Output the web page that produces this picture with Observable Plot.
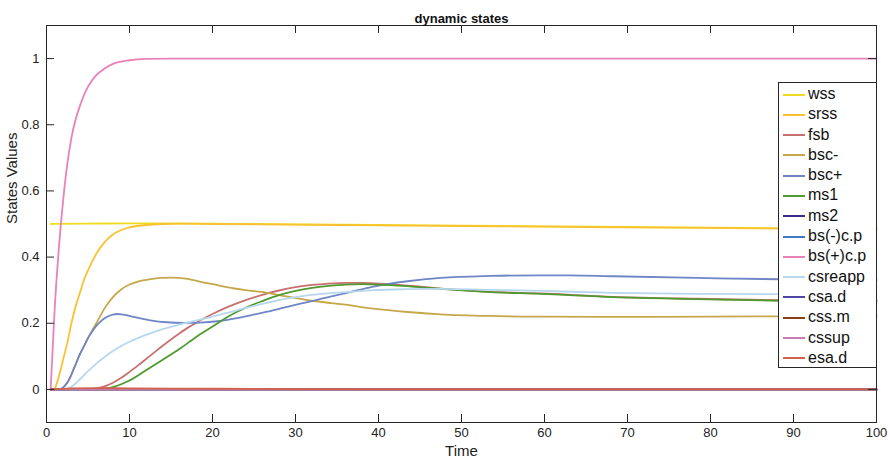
<!DOCTYPE html>
<html><head><meta charset="utf-8">
<script src="https://cdn.jsdelivr.net/npm/d3@7"></script>
<script src="https://cdn.jsdelivr.net/npm/@observablehq/plot@0.6"></script>
<style>
body{margin:0;background:#fff;}
#wrap{position:relative;width:890px;height:463px;font-family:"Liberation Sans",Arial,Helvetica,sans-serif;}
#legend{position:absolute;left:778px;top:82px;width:99px;height:286px;border:1px solid #262626;background:#fff;box-sizing:border-box;padding-top:1px;}
.row{position:relative;height:20.3px;line-height:20.3px;font-size:16px;color:#111;}
.row .sw{position:absolute;left:4px;top:9.5px;width:22px;height:2px;}
.row .lb{position:absolute;left:29px;top:0;white-space:nowrap;}
</style>
</head><body>
<div id="wrap"><div id="chart"></div><div id="legend"></div></div>
<script>
// ---- data ----
const names = ["wss","srss","fsb","bsc-","bsc+","ms1","ms2","bs(-)c.p","bs(+)c.p","csreapp","csa.d","css.m","cssup","esa.d"];
const colors = ["#F0DC1E","#F8C232","#C8706F","#C6A84A","#6E86C6","#4E9A2F","#3B2D8C","#3D7CC0","#E882B8","#B7D7EF","#4E46A5","#8A3F12","#C77CB6","#D0614D"];

const wssT = [0.5,5,10,20,30,40,50,60,70,80,90,100];
const wssV = [0.5,0.501,0.502,0.501,0.499,0.497,0.495,0.493,0.491,0.489,0.487,0.485];

const srssT = [1.0,1.5,2,2.5,3,3.5,4,4.5,5,6,7,8,9,10,12,14,16,20,30,40,50,60,70,80,90,100];
const srssV = [0,0.04,0.09,0.14,0.2,0.25,0.29,0.33,0.36,0.41,0.445,0.468,0.482,0.49,0.497,0.5,0.501,0.5,0.498,0.496,0.494,0.492,0.49,0.488,0.486,0.484];

const fsbT = [5,6,7,8,9,10,11,12,13,14,15,16,17,18,19,20,22,24,26,28,30,32,34,36,38,40,44,48,53.5,59.5,68.3,78.4,88.2,100];
const fsbV = [0,0.003,0.009,0.02,0.035,0.053,0.072,0.092,0.112,0.132,0.151,0.169,0.186,0.201,0.215,0.228,0.251,0.27,0.286,0.299,0.309,0.316,0.32,0.322,0.322,0.32,0.313,0.304,0.295,0.29,0.28,0.274,0.27,0.268];

const bscMinusT = [1.7,2.5,3,3.5,4,4.5,5,5.5,6,7,8,9,10,11,12,13,14,15,16,17,18.6,20,22.6,24,26.6,28,30.6,33,36,39.4,43.5,47.5,53.5,60,70,80,90,100];
const bscMinusV = [0,0.02,0.045,0.075,0.105,0.13,0.155,0.178,0.2,0.245,0.279,0.302,0.317,0.326,0.331,0.335,0.337,0.338,0.337,0.334,0.325,0.318,0.305,0.3,0.292,0.285,0.274,0.265,0.256,0.244,0.234,0.227,0.222,0.22,0.219,0.22,0.221,0.222];

const bscPlusT = [1.7,2.5,3,3.5,4,4.5,5,5.5,6,6.5,7,7.5,8,8.5,9,9.5,10.5,12.5,14.5,16.5,18.5,20.6,22.6,24.6,26.6,28.6,30.6,32.6,35.4,37,39.4,43.5,47.5,53.5,59.5,63,68.3,78.4,88.2,100];
const bscPlusV = [0,0.02,0.045,0.075,0.105,0.13,0.155,0.175,0.192,0.205,0.215,0.222,0.226,0.228,0.227,0.225,0.219,0.209,0.203,0.201,0.202,0.206,0.214,0.224,0.235,0.247,0.259,0.271,0.287,0.297,0.311,0.327,0.337,0.343,0.345,0.345,0.342,0.337,0.333,0.331];

const ms1T = [6,8,10,12,14,16,18,20,22,24,26,28,30,32,34,36,38,40,44,48,53.5,59.5,68.3,78.4,88.2,100];
const ms1V = [0,0.007,0.027,0.058,0.09,0.122,0.158,0.19,0.222,0.247,0.267,0.285,0.298,0.307,0.313,0.317,0.318,0.317,0.311,0.303,0.294,0.289,0.279,0.273,0.268,0.266];

const ms2T = [0.5,100];
const ms2V = [0,0];
const bsMinusCpT = [0.5,100];
const bsMinusCpV = [0,0];

const bsPlusCpT = [0.5,1,1.5,2,2.5,3,3.5,4,5,6,7,8,10,12,15,20,100];
const bsPlusCpV = [0,0.25,0.43,0.57,0.68,0.76,0.815,0.855,0.915,0.95,0.97,0.984,0.995,0.999,1,1,1];

const csreappT = [2.3,3,4,5,6,7,8,9,10,11,12,13,14,16,18,20,22,24.6,28.6,32.6,36.6,39.4,43.5,47.5,53.5,59.5,68.3,78.4,88.2,100];
const csreappV = [0,0.008,0.03,0.055,0.078,0.098,0.116,0.131,0.144,0.155,0.165,0.174,0.182,0.196,0.208,0.22,0.233,0.25,0.273,0.287,0.295,0.3,0.303,0.304,0.301,0.298,0.292,0.289,0.288,0.287];

const csaDT = [0.5,100];
const csaDV = [0,0];
const cssMT = [0.5,100];
const cssMV = [0,0];
const cssupT = [0.5,100];
const cssupV = [0,0];

const esaDT = [0.5,3,6,10,20,30,40,100];
const esaDV = [0,0.003,0.004,0.003,0.002,0.001,0,0];

const xTicks = [0,10,20,30,40,50,60,70,80,90,100];
const yTicks = [0,0.2,0.4,0.6,0.8,1];
const yTickLabels = ["0","0.2","0.4","0.6","0.8","1"];
const titleText = "dynamic states";
const xLabel = "Time";
const yLabel = "States Values";

// ---- build table ----
const seriesT = [wssT,srssT,fsbT,bscMinusT,bscPlusT,ms1T,ms2T,bsMinusCpT,bsPlusCpT,csreappT,csaDT,cssMT,cssupT,esaDT];
const seriesV = [wssV,srssV,fsbV,bscMinusV,bscPlusV,ms1V,ms2V,bsMinusCpV,bsPlusCpV,csreappV,csaDV,cssMV,cssupV,esaDV];
const rows = [];
names.forEach((n,i)=>{ seriesT[i].forEach((t,j)=>rows.push({name:n,t,v:seriesV[i][j]})); });

const X0=0,X1=100,Y0=-0.1,Y1=1.1;
const tickLenY = 0.0242, tickLenX = 0.964;
const axisColor = "#262626";

const chart = Plot.plot({
  width:890, height:463,
  marginLeft:46, marginRight:14, marginTop:25, marginBottom:41,
  x:{domain:[X0,X1]},
  y:{domain:[Y0,Y1]},
  color:{domain:names, range:colors},
  style:{fontFamily:'"Liberation Sans",Arial,Helvetica,sans-serif', fontSize:"13px", color:"#222", background:"#fff"},
  marks:[
    Plot.line(rows,{x:"t", y:"v", z:"name", stroke:"name", strokeWidth:1.8, curve:"monotone-x"}),
    Plot.frame({stroke:axisColor, strokeWidth:1}),
    Plot.axisX(xTicks,{tickSize:0, tickPadding:5, label:null, fontSize:13}),
    Plot.axisY(yTicks,{tickSize:0, tickPadding:7, label:null, fontSize:13, tickFormat:(d)=>yTickLabels[yTicks.indexOf(d)]}),
    Plot.ruleX(xTicks,{x:d=>d, y1:Y0, y2:Y0+tickLenY, stroke:axisColor}),
    Plot.ruleX(xTicks,{x:d=>d, y1:Y1, y2:Y1-tickLenY, stroke:axisColor}),
    Plot.ruleY(yTicks,{y:d=>d, x1:X0, x2:X0+tickLenX, stroke:axisColor}),
    Plot.ruleY(yTicks,{y:d=>d, x1:X1, x2:X1-tickLenX, stroke:axisColor}),
    Plot.text([xLabel],{frameAnchor:"bottom", dy:33, fontSize:15, fill:"#222"}),
    Plot.text([yLabel],{frameAnchor:"left", dx:-34, rotate:-90, fontSize:15, fill:"#222"}),
    Plot.text([titleText],{frameAnchor:"top", dy:-12, fontSize:13, fontWeight:"bold", fill:"#111"})
  ]
});
document.getElementById("chart").appendChild(chart);

// ---- legend ----
const leg = document.getElementById("legend");
names.forEach((n,i)=>{
  const r = document.createElement("div"); r.className="row";
  const s = document.createElement("div"); s.className="sw"; s.style.background=colors[i];
  const l = document.createElement("div"); l.className="lb"; l.textContent=n;
  r.appendChild(s); r.appendChild(l); leg.appendChild(r);
});
</script>
</body></html>
